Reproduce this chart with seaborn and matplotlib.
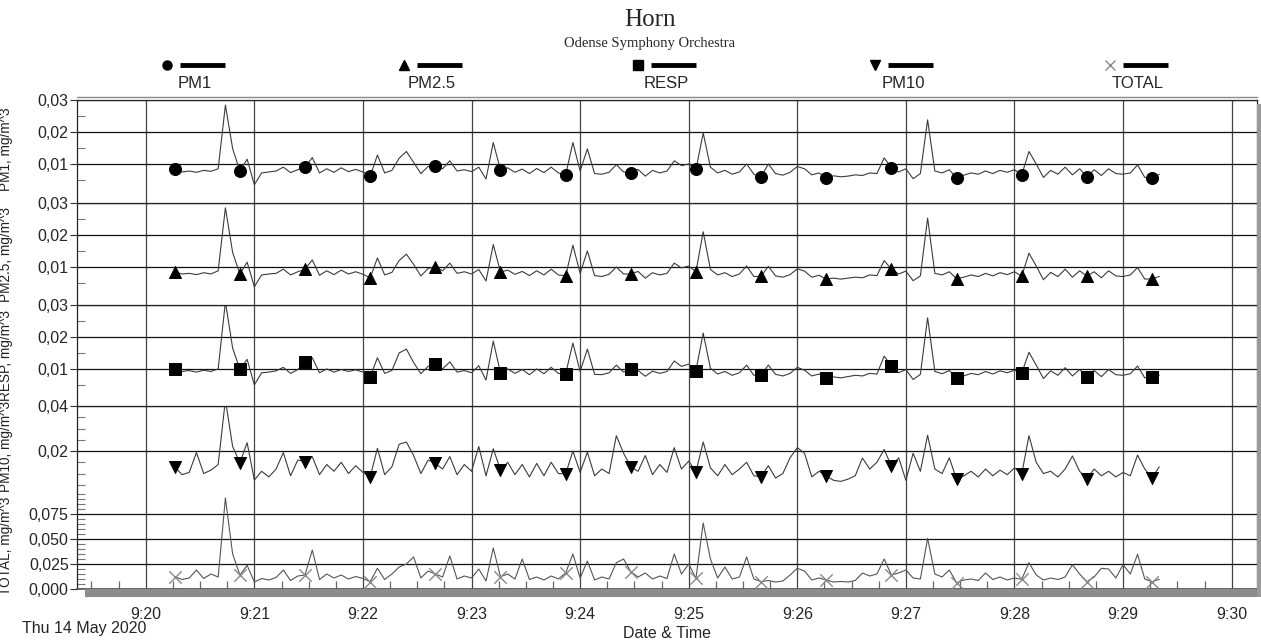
import pandas as pd
import numpy as np
import matplotlib
matplotlib.use("Agg")
import matplotlib.pyplot as plt
import matplotlib.dates as mdates
import matplotlib.ticker as mticker
from matplotlib.lines import Line2D
from matplotlib.patches import Rectangle
import seaborn as sns

# readings, one every 4 s from 9:20:16
pm1 = [0.0085, 0.0075, 0.0078, 0.0074, 0.0080, 0.0077, 0.0085, 0.0284, 0.0148, 0.0078,
       0.0115, 0.0035, 0.0072, 0.0075, 0.0078, 0.0090, 0.0073, 0.0082, 0.0090, 0.0120,
       0.0072, 0.0085, 0.0074, 0.0088, 0.0076, 0.0083, 0.0075, 0.0062, 0.0128, 0.0072,
       0.0080, 0.0118, 0.0139, 0.0105, 0.0070, 0.0092, 0.0094, 0.0085, 0.0110, 0.0078,
       0.0082, 0.0076, 0.0090, 0.0053, 0.0167, 0.0081, 0.0088, 0.0074, 0.0084, 0.0070,
       0.0086, 0.0073, 0.0090, 0.0072, 0.0066, 0.0167, 0.0078, 0.0147, 0.0070, 0.0068,
       0.0074, 0.0098, 0.0075, 0.0072, 0.0083, 0.0062, 0.0080, 0.0072, 0.0078, 0.0110,
       0.0095, 0.0100, 0.0083, 0.0197, 0.0090, 0.0072, 0.0080, 0.0068, 0.0075, 0.0100,
       0.0068, 0.0060, 0.0100, 0.0070, 0.0065, 0.0074, 0.0092, 0.0085, 0.0066, 0.0072,
       0.0056, 0.0063, 0.0060, 0.0062, 0.0066, 0.0064, 0.0072, 0.0070, 0.0119, 0.0088,
       0.0075, 0.0085, 0.0054, 0.0070, 0.0238, 0.0078, 0.0072, 0.0082, 0.0056, 0.0065,
       0.0072, 0.0068, 0.0078, 0.0070, 0.0080, 0.0074, 0.0082, 0.0066, 0.0139, 0.0100,
       0.0058, 0.0080, 0.0068, 0.0090, 0.0066, 0.0085, 0.0060, 0.0082, 0.0064, 0.0085,
       0.0070, 0.0068, 0.0072, 0.0097, 0.0058, 0.0056, 0.0068]

pm25 = [0.0085, 0.0078, 0.0080, 0.0076, 0.0082, 0.0078, 0.0088, 0.0285, 0.0145, 0.0078,
        0.0115, 0.0038, 0.0075, 0.0078, 0.0080, 0.0093, 0.0075, 0.0085, 0.0093, 0.0122,
        0.0074, 0.0088, 0.0076, 0.0090, 0.0078, 0.0085, 0.0077, 0.0066, 0.0128, 0.0075,
        0.0083, 0.0120, 0.0140, 0.0108, 0.0072, 0.0095, 0.0101, 0.0088, 0.0112, 0.0080,
        0.0085, 0.0078, 0.0092, 0.0056, 0.0170, 0.0084, 0.0090, 0.0077, 0.0086, 0.0073,
        0.0088, 0.0075, 0.0093, 0.0075, 0.0072, 0.0168, 0.0080, 0.0150, 0.0073, 0.0070,
        0.0077, 0.0100, 0.0078, 0.0078, 0.0086, 0.0065, 0.0082, 0.0075, 0.0080, 0.0112,
        0.0097, 0.0103, 0.0085, 0.0210, 0.0092, 0.0075, 0.0082, 0.0070, 0.0078, 0.0103,
        0.0070, 0.0071, 0.0102, 0.0072, 0.0068, 0.0076, 0.0094, 0.0087, 0.0068, 0.0074,
        0.0062, 0.0065, 0.0062, 0.0065, 0.0068, 0.0066, 0.0075, 0.0073, 0.0120, 0.0093,
        0.0078, 0.0087, 0.0057, 0.0072, 0.0253, 0.0080, 0.0075, 0.0085, 0.0063, 0.0068,
        0.0075, 0.0070, 0.0080, 0.0072, 0.0082, 0.0076, 0.0085, 0.0071, 0.0143, 0.0103,
        0.0060, 0.0083, 0.0070, 0.0093, 0.0068, 0.0088, 0.0071, 0.0085, 0.0066, 0.0088,
        0.0072, 0.0070, 0.0075, 0.0098, 0.0062, 0.0063, 0.0070]

resp = [0.0100, 0.0092, 0.0095, 0.0090, 0.0096, 0.0092, 0.0100, 0.0310, 0.0165, 0.0099,
        0.0130, 0.0050, 0.0088, 0.0090, 0.0094, 0.0105, 0.0086, 0.0098, 0.0123, 0.0135,
        0.0088, 0.0100, 0.0090, 0.0098, 0.0092, 0.0097, 0.0090, 0.0075, 0.0135, 0.0086,
        0.0095, 0.0150, 0.0162, 0.0120, 0.0085, 0.0108, 0.0116, 0.0100, 0.0122, 0.0090,
        0.0095, 0.0088, 0.0110, 0.0065, 0.0187, 0.0088, 0.0100, 0.0086, 0.0098, 0.0082,
        0.0100, 0.0085, 0.0105, 0.0086, 0.0085, 0.0181, 0.0092, 0.0162, 0.0083, 0.0082,
        0.0088, 0.0112, 0.0090, 0.0100, 0.0095, 0.0077, 0.0093, 0.0086, 0.0092, 0.0125,
        0.0108, 0.0115, 0.0095, 0.0212, 0.0102, 0.0084, 0.0092, 0.0080, 0.0088, 0.0112,
        0.0080, 0.0082, 0.0112, 0.0083, 0.0078, 0.0086, 0.0105, 0.0096, 0.0078, 0.0084,
        0.0072, 0.0075, 0.0072, 0.0076, 0.0080, 0.0078, 0.0086, 0.0084, 0.0140, 0.0109,
        0.0088, 0.0098, 0.0067, 0.0083, 0.0260, 0.0092, 0.0085, 0.0095, 0.0072, 0.0078,
        0.0086, 0.0082, 0.0092, 0.0084, 0.0094, 0.0088, 0.0096, 0.0087, 0.0152, 0.0112,
        0.0070, 0.0094, 0.0080, 0.0104, 0.0078, 0.0098, 0.0075, 0.0095, 0.0076, 0.0098,
        0.0082, 0.0080, 0.0085, 0.0109, 0.0072, 0.0075, 0.0080]

pm10 = [0.0130, 0.0095, 0.0105, 0.0193, 0.0100, 0.0115, 0.0140, 0.0427, 0.0220, 0.0148,
        0.0237, 0.0071, 0.0110, 0.0085, 0.0120, 0.0193, 0.0090, 0.0160, 0.0153, 0.0175,
        0.0095, 0.0140, 0.0110, 0.0150, 0.0100, 0.0135, 0.0105, 0.0086, 0.0212, 0.0095,
        0.0130, 0.0230, 0.0240, 0.0180, 0.0100, 0.0160, 0.0145, 0.0120, 0.0175, 0.0095,
        0.0140, 0.0110, 0.0220, 0.0090, 0.0210, 0.0116, 0.0150, 0.0095, 0.0140, 0.0085,
        0.0145, 0.0090, 0.0150, 0.0100, 0.0098, 0.0200, 0.0105, 0.0195, 0.0090, 0.0120,
        0.0100, 0.0268, 0.0190, 0.0130, 0.0110, 0.0180, 0.0095, 0.0140, 0.0105, 0.0215,
        0.0120, 0.0155, 0.0108, 0.0240, 0.0125, 0.0090, 0.0140, 0.0095, 0.0120, 0.0150,
        0.0090, 0.0086, 0.0135, 0.0080, 0.0100, 0.0170, 0.0215, 0.0190, 0.0085, 0.0110,
        0.0089, 0.0070, 0.0065, 0.0075, 0.0090, 0.0169, 0.0120, 0.0150, 0.0207, 0.0133,
        0.0170, 0.0070, 0.0190, 0.0110, 0.0270, 0.0120, 0.0100, 0.0170, 0.0074, 0.0090,
        0.0110, 0.0085, 0.0120, 0.0090, 0.0115, 0.0095, 0.0125, 0.0098, 0.0268, 0.0150,
        0.0100, 0.0110, 0.0085, 0.0120, 0.0178, 0.0110, 0.0077, 0.0120, 0.0090, 0.0110,
        0.0085, 0.0105, 0.0090, 0.0182, 0.0120, 0.0081, 0.0130]

total = [0.0123, 0.0095, 0.0110, 0.0190, 0.0105, 0.0150, 0.0120, 0.0910, 0.0350, 0.0140,
         0.0237, 0.0070, 0.0105, 0.0090, 0.0115, 0.0190, 0.0085, 0.0130, 0.0140, 0.0390,
         0.0095, 0.0150, 0.0110, 0.0140, 0.0100, 0.0125, 0.0105, 0.0073, 0.0207, 0.0095,
         0.0150, 0.0220, 0.0250, 0.0320, 0.0110, 0.0180, 0.0150, 0.0120, 0.0330, 0.0100,
         0.0130, 0.0110, 0.0200, 0.0080, 0.0410, 0.0123, 0.0150, 0.0100, 0.0300, 0.0095,
         0.0120, 0.0090, 0.0130, 0.0100, 0.0160, 0.0350, 0.0110, 0.0280, 0.0090, 0.0120,
         0.0100, 0.0263, 0.0300, 0.0173, 0.0120, 0.0160, 0.0100, 0.0130, 0.0105, 0.0350,
         0.0150, 0.0250, 0.0107, 0.0660, 0.0300, 0.0110, 0.0220, 0.0100, 0.0120, 0.0320,
         0.0100, 0.0073, 0.0085, 0.0070, 0.0080, 0.0140, 0.0207, 0.0180, 0.0090, 0.0110,
         0.0090, 0.0070, 0.0075, 0.0070, 0.0085, 0.0160, 0.0130, 0.0150, 0.0300, 0.0140,
         0.0160, 0.0190, 0.0110, 0.0100, 0.0507, 0.0150, 0.0120, 0.0190, 0.0063, 0.0090,
         0.0100, 0.0085, 0.0160, 0.0095, 0.0120, 0.0090, 0.0110, 0.0097, 0.0263, 0.0140,
         0.0090, 0.0110, 0.0095, 0.0120, 0.0243, 0.0150, 0.0073, 0.0120, 0.0207, 0.0200,
         0.0110, 0.0243, 0.0150, 0.0347, 0.0100, 0.0073, 0.0097]

channels = ["PM1", "PM2.5", "RESP", "PM10", "TOTAL"]
marks = ["o", "^", "s", "v", "x"]

df = pd.DataFrame({"PM1": pm1, "PM2.5": pm25, "RESP": resp, "PM10": pm10, "TOTAL": total})
df["time"] = pd.date_range("2020-05-14 09:20:16", periods=len(df), freq="4s")

sns.set_theme(style="white")
plt.rcParams["font.family"] = ["Liberation Sans", "DejaVu Sans"]

W, H = 1261, 641
def fx(px): return px / W
def fy(py): return 1 - py / H

fig = plt.figure(figsize=(12.61, 6.41), dpi=100)
gs = fig.add_gridspec(5, 1, height_ratios=[103, 102, 101, 86, 97], hspace=0,
                      left=fx(77), right=fx(1257), top=fy(100), bottom=fy(589))
axes = []
for i in range(5):
    axes.append(fig.add_subplot(gs[i], sharex=axes[0] if axes else None))

ylims = [(-0.0022, 0.03), (-0.0019, 0.03), (-0.0016, 0.03), (0.0018, 0.04), (0.0, 0.097)]
majors = [[0.01, 0.02, 0.03]] * 3 + [[0.02, 0.04], [0.0, 0.025, 0.05, 0.075]]
minors = [[0.005, 0.015, 0.025]] * 3 + [[0.005, 0.01, 0.015, 0.025, 0.03, 0.035],
                                        [k * 0.005 for k in range(1, 20) if k % 5]]
fmts = ["{:.2f}"] * 4 + ["{:.3f}"]
label_y = [0.52, 0.5, 0.5, 0.53, 0.45]

sub = df.iloc[::9]
for i, (ax, ch) in enumerate(zip(axes, channels)):
    line_col = "#555555" if ch == "TOTAL" else "#3c3c3c"
    sns.lineplot(data=df, x="time", y=ch, ax=ax, color=line_col, lw=0.8)
    if ch == "TOTAL":
        sns.scatterplot(data=sub, x="time", y=ch, ax=ax, marker="x", color="#8a8a8a",
                        s=80, linewidth=1.0, zorder=3)
    else:
        sns.scatterplot(data=sub, x="time", y=ch, ax=ax, marker=marks[i], color="black",
                        s=75, edgecolor="black", zorder=3)
    ax.set_ylim(*ylims[i])
    ax.yaxis.set_major_locator(mticker.FixedLocator(majors[i]))
    ax.yaxis.set_minor_locator(mticker.FixedLocator(minors[i]))
    ax.yaxis.set_major_formatter(mticker.FuncFormatter(
        lambda v, p, f=fmts[i]: f.format(v).replace(".", ",")))
    ax.tick_params(axis="y", which="major", direction="out", length=5, width=0.8,
                   color="#333333", labelsize=11.5, pad=1, left=True)
    ax.tick_params(axis="y", which="minor", direction="in", length=6, width=0.8,
                   color="#777777", left=True)
    ax.set_ylabel(f"{ch}, mg/m^3", fontsize=9.8, color="#222222")
    ax.yaxis.set_label_coords(-0.054, label_y[i])
    ax.grid(axis="y", which="major", color="#111111", lw=0.9)
    ax.grid(axis="x", which="major", color="#444444", lw=0.9)
    for side in ["left", "right", "top"]:
        ax.spines[side].set_color("#222222")
        ax.spines[side].set_linewidth(0.9)
    ax.spines["bottom"].set_visible(i == 4)
    ax.set_xlabel("")
    if i < 4:
        ax.tick_params(axis="x", which="both", bottom=False, labelbottom=False)

# no separating line between the PM10 and TOTAL panels
axes[4].spines["top"].set_visible(False)

ax = axes[4]
ax.set_xlim(pd.Timestamp("2020-05-14 09:19:22"), pd.Timestamp("2020-05-14 09:30:14"))
ax.xaxis.set_major_locator(mdates.MinuteLocator())
ax.xaxis.set_major_formatter(mdates.DateFormatter("%-H:%M"))
ax.xaxis.set_minor_locator(mdates.SecondLocator(bysecond=[15, 30, 45]))
ax.tick_params(axis="x", which="major", length=0, labelsize=11.5, pad=13)
ax.tick_params(axis="x", which="minor", direction="in", length=6, width=0.9,
               color="#666666", bottom=True)
ax.spines["bottom"].set_color("#555555")
ax.set_xlabel("Date & Time", fontsize=11.5, labelpad=3)

# drop shadow along the bottom and right of the frame, and the double top line
fig.add_artist(Rectangle((fx(85), fy(597)), fx(1260) - fx(85), fy(589) - fy(597),
                         transform=fig.transFigure, color="#8c8c8c", lw=0))
fig.add_artist(Rectangle((fx(1257), fy(597)), fx(1261) - fx(1257), fy(104) - fy(597),
                         transform=fig.transFigure, color="#9a9a9a", lw=0))
fig.add_artist(Line2D([fx(77), fx(1257)], [fy(96.5), fy(96.5)], transform=fig.transFigure,
                      color="#8a8a8a", lw=1))

fig.text(fx(22), fy(628), "Thu 14 May 2020", fontsize=11.5, ha="left", va="center")

# title
fig.text(fx(650), fy(20), "Horn", fontsize=18, ha="center", va="center",
         family=["Liberation Serif", "DejaVu Serif"])
fig.text(fx(650), fy(43), "Odense Symphony Orchestra", fontsize=10.5, ha="center",
         va="center", family=["Liberation Serif", "DejaVu Serif"])

# legend row above the plot
leg_x = [167, 404, 638, 875, 1110]
for x0, ch, m in zip(leg_x, channels, marks):
    if m == "x":
        fig.add_artist(Line2D([fx(x0)], [fy(65)], transform=fig.transFigure, marker="x",
                              color="#8a8a8a", markersize=7, mew=1.0, lw=0))
    else:
        fig.add_artist(Line2D([fx(x0)], [fy(65)], transform=fig.transFigure, marker=m,
                              color="black", markersize=6.5, lw=0))
    fig.add_artist(Line2D([fx(x0 + 13), fx(x0 + 58)], [fy(65), fy(65)],
                          transform=fig.transFigure, color="black", lw=3.5,
                          solid_capstyle="butt"))
    fig.text(fx(x0 + 28), fy(84), ch, fontsize=12, ha="center", va="center")

fig.savefig("out.png", dpi=100)
